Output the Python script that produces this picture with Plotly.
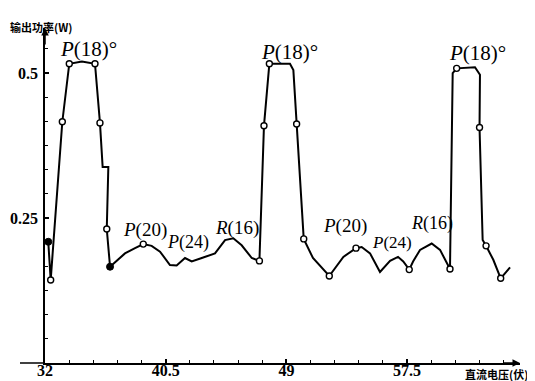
import plotly.graph_objects as go

# ---- data ----
volt = [32.23, 32.40, 33.22, 33.71, 34.60, 35.52, 35.87, 36.06, 36.46, 36.35, 36.58,
        37.63, 38.34, 38.92, 39.51, 40.10, 40.80, 41.27, 41.86, 42.33, 43.04, 43.97, 44.68, 45.26, 45.85, 46.56, 47.10,
        47.42, 47.80, 49.25, 49.49, 49.72, 50.22, 50.87, 52.02,
        53.01, 53.90, 54.30, 54.89, 55.59, 56.30, 56.86, 57.23, 57.65, 57.92, 58.41, 59.23, 59.82, 60.52,
        60.71, 60.99, 62.28, 62.63, 62.60, 62.82, 63.06, 63.57, 64.09, 64.75]
power = [0.209, 0.143, 0.416, 0.516, 0.520, 0.516, 0.414, 0.338, 0.338, 0.231, 0.166,
         0.189, 0.198, 0.205, 0.202, 0.192, 0.169, 0.168, 0.181, 0.175, 0.181, 0.189, 0.212, 0.215, 0.203, 0.181, 0.176,
         0.409, 0.516, 0.516, 0.505, 0.412, 0.214, 0.181, 0.150,
         0.183, 0.198, 0.200, 0.189, 0.157, 0.176, 0.183, 0.175, 0.161, 0.175, 0.195, 0.206, 0.195, 0.162,
         0.500, 0.508, 0.510, 0.497, 0.406, 0.212, 0.202, 0.178, 0.146, 0.165]
marks = ["f", "o", "o", "o", "", "o", "o", "", "", "o", "f",
         "", "", "o", "", "", "", "", "", "", "", "", "", "", "", "", "o",
         "o", "o", "", "", "o", "o", "", "o",
         "", "o", "", "", "", "", "", "", "o", "", "", "", "", "o",
         "", "o", "", "", "o", "", "o", "", "o", ""]

x_tick_vals = [32, 40.5, 49, 57.5]
x_tick_text = ["32", "40.5", "49", "57.5"]
y_tick_vals = [0.25, 0.5]
y_tick_text = ["0.25", "0.5"]

line_labels = ["<i>P</i>(18)°", "<i>P</i>(20)", "<i>P</i>(24)", "<i>R</i>(16)",
               "<i>P</i>(18)°", "<i>P</i>(20)", "<i>P</i>(24)", "<i>R</i>(16)", "<i>P</i>(18)°"]
label_x = [35.03, 39.04, 42.07, 45.52, 49.25, 53.13, 56.45, 59.25, 62.49]
label_y = [0.541, 0.229, 0.207, 0.233, 0.537, 0.237, 0.207, 0.240, 0.535]
label_size = [21, 19, 18, 19, 21, 19, 17, 18, 21]

x_title = "直流电压(伏)"
y_title = "输出功率(W)"

fig = go.Figure()
fig.add_trace(go.Scatter(x=volt, y=power, mode="lines",
                         line=dict(color="black", width=2), hoverinfo="skip"))
ox = [v for v, m in zip(volt, marks) if m == "o"]
oy = [p for p, m in zip(power, marks) if m == "o"]
fx = [v for v, m in zip(volt, marks) if m == "f"]
fy = [p for p, m in zip(power, marks) if m == "f"]
fig.add_trace(go.Scatter(x=ox, y=oy, mode="markers",
                         marker=dict(size=6, color="white", line=dict(color="black", width=1.4))))
fig.add_trace(go.Scatter(x=fx, y=fy, mode="markers",
                         marker=dict(size=7, color="black", line=dict(color="black", width=1))))

serif = "Liberation Serif"
for t, x, y, s in zip(line_labels, label_x, label_y, label_size):
    fig.add_annotation(x=x, y=y, text=t, showarrow=False,
                       font=dict(family=serif, size=s, color="black"))

# axis arrows
fig.add_annotation(xref="paper", yref="paper", x=0, y=1, ax=0, ay=18, axref="pixel", ayref="pixel",
                   showarrow=True, arrowhead=2, arrowsize=1, arrowwidth=1.5, arrowcolor="black", text="")
fig.add_annotation(xref="paper", yref="paper", x=1, y=0, ax=-18, ay=0, axref="pixel", ayref="pixel",
                   showarrow=True, arrowhead=2, arrowsize=1, arrowwidth=1.5, arrowcolor="black", text="")
# short stub of x axis left of origin
fig.add_shape(type="line", xref="paper", yref="paper", x0=-25 / 475, x1=0, y0=0, y1=0,
              line=dict(color="black", width=1.5))

fig.add_annotation(xref="paper", yref="paper", x=-37 / 475, y=1, xanchor="left", yanchor="middle",
                   yshift=1, text=y_title, showarrow=False,
                   font=dict(family="Noto Sans CJK SC", size=11, color="black", weight="bold"))
fig.add_annotation(xref="paper", yref="paper", x=1 + 10 / 475, y=0, xanchor="right", yanchor="top",
                   yshift=-1, text=x_title, showarrow=False,
                   font=dict(family="Noto Sans CJK SC", size=11, color="black", weight="bold"))

fig.update_layout(
    width=527, height=373,
    margin=dict(l=37, r=15, t=20, b=18),
    paper_bgcolor="white", plot_bgcolor="white",
    showlegend=False,
    xaxis=dict(range=[32, 65.45], showgrid=False, zeroline=False, automargin=False,
               showline=True, linecolor="black", linewidth=1.5,
               tickvals=x_tick_vals, ticktext=x_tick_text,
               ticks="inside", ticklen=4, tickcolor="black", tickwidth=1.5,
               minor=dict(dtick=1.7, tick0=32, ticks="inside", ticklen=3, tickcolor="black", tickwidth=1.2),
               tickfont=dict(family=serif, size=16, color="black", weight="bold"),
               ticklabelstandoff=-8),
    yaxis=dict(range=[0, 0.5776], showgrid=False, zeroline=False, automargin=False,
               showline=True, linecolor="black", linewidth=1.5,
               tickvals=y_tick_vals, ticktext=y_tick_text,
               ticks="inside", ticklen=4, tickcolor="black", tickwidth=1.5,
               minor=dict(dtick=0.25 / 6, tick0=0, ticks="inside", ticklen=3, tickcolor="black", tickwidth=1.2),
               tickfont=dict(family=serif, size=16, color="black", weight="bold"),
               ticklabelstandoff=2),
)

fig.write_html("out.html")
